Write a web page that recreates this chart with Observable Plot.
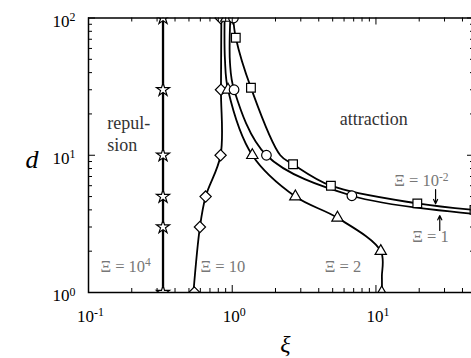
<!DOCTYPE html>
<html><head><meta charset="utf-8">
<script src="https://cdn.jsdelivr.net/npm/d3@7"></script>
<script src="https://cdn.jsdelivr.net/npm/@observablehq/plot@0.6"></script>
<style>
html,body{margin:0;padding:0;background:#fff;overflow:hidden;}
svg text, svg tspan { font-family: "Liberation Serif", "Times New Roman", "DejaVu Serif", serif !important; }
</style>
</head><body><div id="chart"></div>
<script>
// ---------- data ----------
const xiMajor = [0.1, 1, 10];
const xiMajorLabels = ["10^-1", "10^0", "10^1"];
const xiMinor = [0.2,0.3,0.4,0.5,0.6,0.7,0.8,0.9,2,3,4,5,6,7,8,9,20,30,40];
const dMajor = [1, 10, 100];
const dMajorLabels = ["10^0", "10^1", "10^2"];
const dMinor = [2,3,4,5,6,7,8,9,20,30,40,50,60,70,80,90];

// Xi = 10^4 (stars)
const s4LineXi = [0.33, 0.33];
const s4LineD  = [1, 100];
const s4MarkXi = [0.33, 0.33, 0.33, 0.33, 0.33, 0.33];
const s4MarkD  = [1, 3, 5, 10, 30, 100];
// Xi = 10 (diamonds)
const s10LineXi = [0.537, 0.596, 0.653, 0.83, 0.835, 0.84];
const s10LineD  = [1, 3, 5, 10, 30, 100];
const s10MarkXi = [0.545, 0.596, 0.653, 0.83, 0.835, 0.83];
const s10MarkD  = [1, 3, 5, 10, 30, 100];
// Xi = 2 (triangles)
const s2LineXi = [11.0, 11.0, 10.8, 5.4, 2.75, 1.38, 0.935, 0.89, 0.885];
const s2LineD  = [1, 1.3, 2, 3.5, 5, 10, 30, 50, 100];
const s2MarkXi = [10.97, 10.8, 5.4, 2.75, 1.38, 0.935, 0.91];
const s2MarkD  = [1, 2, 3.5, 5, 10, 30, 100];
// Xi = 1 (circles)
const s1LineXi = [0.97, 0.965, 1.03, 1.73, 6.8, 48.5];
const s1LineD  = [100, 47, 30, 10, 5.07, 3.74];
const s1MarkXi = [1.02, 1.03, 1.73, 6.8];
const s1MarkD  = [100, 30, 10, 5.07];
// Xi = 10^-2 (squares)
const s001LineXi = [1.016, 1.059, 1.35, 2.16, 2.65, 4.86, 19.4, 48.5];
const s001LineD  = [100, 71.8, 31, 10, 8.6, 6.0, 4.46, 4.0];
const s001MarkXi = [1.059, 1.35, 2.65, 4.86, 19.4, 48.5];
const s001MarkD  = [71.8, 31, 8.6, 6.0, 4.46, 4.0];

// annotations
const labelTexts = ["Ξ = 10^4", "Ξ = 10", "Ξ = 2", "Ξ = 10^-2", "Ξ = 1"];
const labelXi    = [0.121, 0.602, 4.41, 13.4, 17.9];
const labelD     = [1.42, 1.42, 1.42, 5.92, 2.35];
const regionTexts = ["repul-\nsion", "attraction"];
const regionXi    = [0.135, 5.61];
const regionD     = [10.7, 16.5];
const arrowXi  = [26.0, 27.8];
const arrowD1  = [5.63, 2.83];
const arrowD2  = [4.43, 3.64];

// ---------- helpers ----------
const FONT = "'Liberation Serif', 'Times New Roman', 'DejaVu Serif', serif";
const zip = (xs, ys) => xs.map((x, i) => ({x, y: ys[i]}));
const W = 471, H = 358;
const mL = 88, mT = 17.5, mB = 66, mR = -3;
const frameH = H - mT - mB;
const frameW = W - mL - mR;
const majLen = 7, minLen = 4;

const diamond = {draw(ctx, size) { const r = Math.sqrt(size) * 0.66; ctx.moveTo(0,-r); ctx.lineTo(r,0); ctx.lineTo(0,r); ctx.lineTo(-r,0); ctx.closePath(); }};

const lineOpts = {x: "x", y: "y", curve: "catmull-rom", stroke: "black", strokeWidth: 1.8, clip: true};
const dotOpts = (symbol, r) => ({x: "x", y: "y", symbol, r, fill: "white", stroke: "black", strokeWidth: 1.2, clip: true});

const series = [
  {line: zip(s4LineXi, s4LineD), mark: zip(s4MarkXi, s4MarkD), symbol: "star", r: 4.1, sw: 2.3},
  {line: zip(s10LineXi, s10LineD), mark: zip(s10MarkXi, s10MarkD), symbol: diamond, r: 4.8, sw: 1.8},
  {line: zip(s2LineXi, s2LineD), mark: zip(s2MarkXi, s2MarkD), symbol: "triangle", r: 4.2, sw: 1.8},
  {line: zip(s1LineXi, s1LineD), mark: zip(s1MarkXi, s1MarkD), symbol: "circle", r: 4.8, sw: 1.8},
  {line: zip(s001LineXi, s001LineD), mark: zip(s001MarkXi, s001MarkD), symbol: "square", r: 4.9, sw: 1.8}
];

const marks = [];
for (const s of series) marks.push(Plot.line(s.line, {...lineOpts, strokeWidth: s.sw}));
for (const s of series) marks.push(Plot.dot(s.mark, dotOpts(s.symbol, s.r)));

// ticks (inward, all four sides)
marks.push(Plot.tickX(xiMajor, {x: d => d, insetTop: frameH - majLen, stroke: "black", strokeWidth: 1}));
marks.push(Plot.tickX(xiMajor, {x: d => d, insetBottom: frameH - majLen, stroke: "black", strokeWidth: 1}));
marks.push(Plot.tickX(xiMinor, {x: d => d, insetTop: frameH - minLen, stroke: "black", strokeWidth: 1}));
marks.push(Plot.tickX(xiMinor, {x: d => d, insetBottom: frameH - minLen, stroke: "black", strokeWidth: 1}));
marks.push(Plot.tickY(dMajor, {y: d => d, insetRight: frameW - majLen, stroke: "black", strokeWidth: 1}));
marks.push(Plot.tickY(dMajor, {y: d => d, insetLeft: frameW - majLen, stroke: "black", strokeWidth: 1}));
marks.push(Plot.tickY(dMinor, {y: d => d, insetRight: frameW - minLen, stroke: "black", strokeWidth: 1}));
marks.push(Plot.tickY(dMinor, {y: d => d, insetLeft: frameW - minLen, stroke: "black", strokeWidth: 1}));
marks.push(Plot.frame({stroke: "black", strokeWidth: 1.5}));

// tick labels
marks.push(Plot.text(xiMajor.map((v, i) => ({v, t: xiMajorLabels[i]})), {x: "v", text: "t", frameAnchor: "bottom", lineAnchor: "bottom", dx: 2, dy: 29, fontSize: 17, fontFamily: FONT, fill: "black"}));
marks.push(Plot.text(dMajor.map((v, i) => ({v, t: dMajorLabels[i]})), {y: "v", text: "t", frameAnchor: "left", textAnchor: "start", lineAnchor: "bottom", dx: -36, dy: 8.5, fontSize: 17, fontFamily: FONT, fill: "black"}));

// axis titles
marks.push(Plot.text(["d"], {text: d => d, frameAnchor: "left", dx: -63, dy: 4, fontSize: 26, fontStyle: "italic", fontFamily: FONT, fill: "black"}));
marks.push(Plot.text(["ξ"], {text: d => d, frameAnchor: "bottom", lineAnchor: "bottom", dx: 4, dy: 59, fontSize: 24, fontStyle: "italic", fontFamily: FONT, fill: "black"}));

// annotations
marks.push(Plot.text(labelTexts.map((t, i) => ({t, x: labelXi[i], y: labelD[i]})), {x: "x", y: "y", text: "t", textAnchor: "start", lineAnchor: "bottom", fontSize: 16.5, fontFamily: FONT, fill: "#777"}));
marks.push(Plot.text(regionTexts.map((t, i) => ({t, x: regionXi[i], y: regionD[i]})), {x: "x", y: "y", text: "t", textAnchor: "start", lineAnchor: "bottom", lineHeight: 1.25, fontSize: 18, fontFamily: FONT, fill: "#333"}));
marks.push(Plot.arrow(arrowXi.map((x, i) => ({x, y1: arrowD1[i], y2: arrowD2[i]})), {x: "x", y1: "y1", y2: "y2", stroke: "black", strokeWidth: 1.2, headLength: 6, headAngle: 50}));

const chart = Plot.plot({
  width: W, height: H,
  marginLeft: mL, marginTop: mT, marginBottom: mB, marginRight: mR,
  style: {fontFamily: FONT, background: "white", overflow: "hidden"},
  x: {type: "log", domain: [0.1, 48.5], axis: null},
  y: {type: "log", domain: [1, 100], axis: null},
  marks
});

// superscripts
chart.querySelectorAll("text").forEach(t => {
  if (t.querySelector("tspan")) return;
  const s = t.textContent;
  const m = s.match(/^(.*)\^(.+)$/);
  if (!m) return;
  t.textContent = "";
  const ns = "http://www.w3.org/2000/svg";
  const a = document.createElementNS(ns, "tspan");
  a.textContent = m[1];
  const b = document.createElementNS(ns, "tspan");
  b.textContent = m[2];
  b.setAttribute("dy", "-0.45em");
  b.setAttribute("font-size", "70%");
  t.appendChild(a); t.appendChild(b);
});
document.getElementById("chart").appendChild(chart);
</script>
</body></html>
